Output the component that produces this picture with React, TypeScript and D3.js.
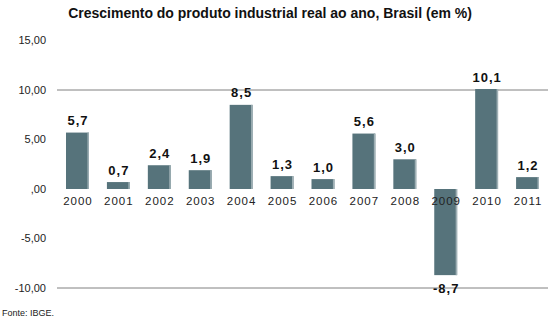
import React from "react";
import * as d3 from "d3";

const years = ["2000","2001","2002","2003","2004","2005","2006","2007","2008","2009","2010","2011"];
const values = [5.7, 0.7, 2.4, 1.9, 8.5, 1.3, 1.0, 5.6, 3.0, -8.7, 10.1, 1.2];
const yTicks = [15, 10, 5, 0, -5, -10];
const gridTicks = [10, -10];

const W = 550, H = 321;
const fmt = (v: number) => (v === 0 ? ",00" : v.toFixed(2).replace(".", ","));
const fmtVal = (v: number) => v.toFixed(1).replace(".", ",");

export default function App() {
  const x = d3.scaleBand<string>().domain(years).range([57, 548]).paddingInner(0.44).paddingOuter(0.22);
  const y = d3.scaleLinear().domain([-10, 10]).range([288, 90]);
  const font = "'Liberation Sans', Arial, sans-serif";
  return (
    <svg width={W} height={H} style={{ position: "absolute", left: 0, top: 0 }} fontFamily={font}>
      <rect width={W} height={H} fill="#fff" />
      <text x={270} y={18} textAnchor="middle" fontSize={14} fontWeight="bold" fill="#111">
        Crescimento do produto industrial real ao ano, Brasil (em %)
      </text>
      {gridTicks.map(t => (
        <line key={t} x1={57} x2={548} y1={y(t)} y2={y(t)} stroke="#808080" strokeWidth={1} />
      ))}
      {yTicks.map(t => (
        <text key={t} x={46} y={y(t)} dy="0.35em" textAnchor="end" fontSize={11} fill="#222">
          {fmt(t)}
        </text>
      ))}
      {years.map((yr, i) => {
        const v = values[i];
        const top = y(Math.max(0, v));
        const bot = y(Math.min(0, v));
        const bx = x(yr)!;
        const bw = x.bandwidth();
        return (
          <g key={yr}>
            <rect x={bx} y={top} width={bw} height={bot - top} fill="#56737b" />
            <rect x={bx + bw - 1.5} y={top} width={1.5} height={bot - top} fill="#9fb0b5" />
            <text x={bx + bw / 2 + 0.5} y={v >= 0 ? top - 12 : bot + 13} dy="0.35em" textAnchor="middle"
              fontSize={13} fontWeight="bold" letterSpacing={1} fill="#111">
              {fmtVal(v)}
            </text>
            <text x={bx + bw / 2 + 0.5} y={201} dy="0.35em" textAnchor="middle" fontSize={11.5}
              letterSpacing={1} fill="#222">
              {yr}
            </text>
          </g>
        );
      })}
      <text x={2} y={316} fontSize={9} fill="#222">Fonte: IBGE.</text>
    </svg>
  );
}
